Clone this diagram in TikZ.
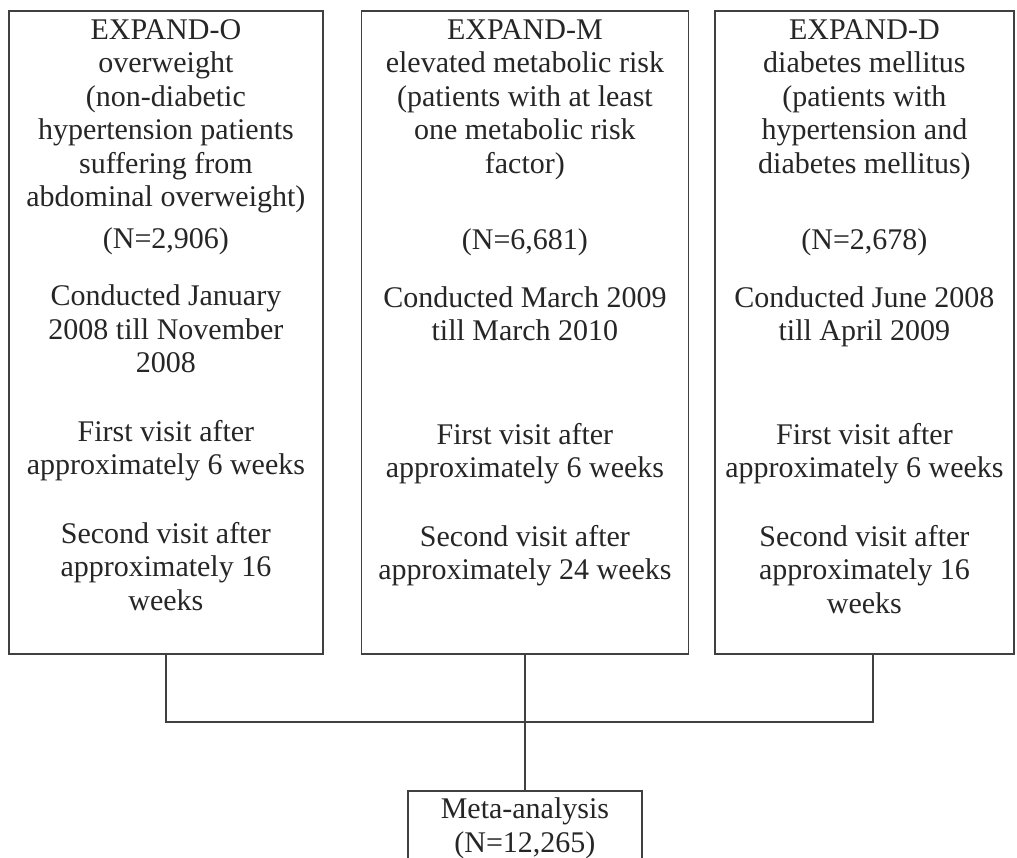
\documentclass[tikz,border=0pt]{standalone}
\usepackage{fontspec}
\setmainfont{Liberation Serif}
\usetikzlibrary{positioning}

\begin{document}
\begin{tikzpicture}[x=1pt,y=-1pt, font=\fontsize{30}{33.5}\selectfont, ln/.style={draw=black!75,line width=1.8pt},
  box/.style={ln,rectangle,inner sep=0pt,minimum height=643pt,anchor=north west},
  txt/.style={align=center,inner sep=0pt,anchor=north,text=black!85}]
 \useasboundingbox[fill=white] (0,0) rectangle (1017,858);
 % study boxes
 \node[box,minimum width=314pt] (o) at (8,10) {};
 \node[box,minimum width=327pt] (m) at (360.5,10) {};
 \node[box,minimum width=299pt] (d) at (714,10) {};
 \node[txt] (otxt) at ([yshift=-9pt]o.north) {EXPAND-O\\ overweight\\ (non-diabetic\\ hypertension patients\\ suffering from\\ abdominal overweight)\\[8pt]
   (N=2,906)\\[24pt] Conducted January\\ 2008 till November\\ 2008\\[35pt] First visit after\\ approximately 6 weeks\\[35pt] Second visit after\\ approximately 16\\ weeks};
 \node[txt] (mtxt) at ([yshift=-9pt]m.north) {EXPAND-M\\ elevated metabolic risk\\ (patients with at least\\ one metabolic risk\\ factor)\\[43pt]
   (N=6,681)\\[24pt] Conducted March 2009\\ till March 2010\\[70pt] First visit after\\ approximately 6 weeks\\[35pt] Second visit after\\ approximately 24 weeks};
 \node[txt] (dtxt) at ([yshift=-9pt]d.north) {EXPAND-D\\ diabetes mellitus\\ (patients with\\ hypertension and\\ diabetes mellitus)\\[43pt]
   (N=2,678)\\[24pt] Conducted June 2008\\ till April 2009\\[70pt] First visit after\\ approximately 6 weeks\\[35pt] Second visit after\\ approximately 16\\ weeks};
 % pooled result
 \node[ln,align=center,text=black!85,inner xsep=4pt,inner ysep=7pt,minimum width=234pt,text depth=40pt,anchor=north] (meta) at (m.south |- 0,790) {Meta-analysis\\ (N=12,265)};
 \coordinate (bus) at (m.south |- 0,722);
 \coordinate (ddrop) at (873,653);
 \draw[ln] (o.south) |- (bus) -| (ddrop);
 \draw[ln] (m.south) -- (meta.north);
\end{tikzpicture}
\end{document}
